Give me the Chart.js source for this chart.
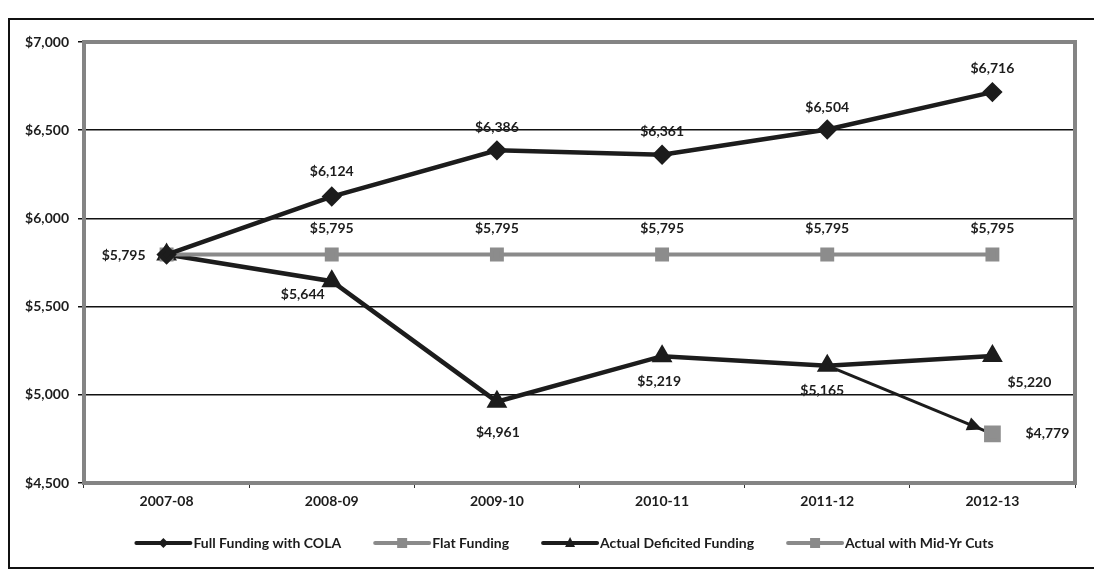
<!DOCTYPE html>
<html><head><meta charset="utf-8">
<script src="https://cdn.jsdelivr.net/npm/chart.js@4/dist/chart.umd.min.js"></script>
<style>html,body{margin:0;padding:0;background:#fff;}#wrap{width:1094px;height:571px;}</style>
</head><body><div id="wrap"><canvas id="c" width="1094" height="571"></canvas></div>
<script>
const categories = ['2007-08','2008-09','2009-10','2010-11','2011-12','2012-13'];
const fullFundingCOLA = [5795,6124,6386,6361,6504,6716];
const flatFunding = [5795,5795,5795,5795,5795,5795];
const actualDeficited = [5795,5644,4961,5219,5165,5220];
const midYrCuts = [null,null,null,null,null,4779];
const midYrArrow = [null,null,null,null,5165,4779];
const yMin = 4500, yMax = 7000, yStep = 500;

const DARK = '#1c1c1c', GRAY = '#8a8a8a';
const FONT = {family:'Lato, "Open Sans", sans-serif', weight:'bold', size:14};
const fmt = v => '$' + Number(v).toLocaleString('en-US');

const frame = {
  id:'frame',
  beforeDraw(c){const x=c.ctx;x.save();x.fillStyle='#fff';x.fillRect(0,0,c.width,c.height);
    x.strokeStyle='#111';x.lineWidth=2;x.strokeRect(9,19,1100,549);x.restore();},
  beforeDatasetsDraw(c){const a=c.chartArea,x=c.ctx;x.save();x.strokeStyle='#848484';x.lineWidth=4;
    x.strokeRect(a.left,a.top,a.right-a.left,a.bottom-a.top);x.restore();}
};
const arrowHead = {
  id:'arrowHead',
  afterDatasetsDraw(c){
    c.data.datasets.forEach((ds,i)=>{
      if(!ds.isArrow) return;
      const pts=c.getDatasetMeta(i).data.filter((p,j)=>ds.data[j]!=null);
      if(pts.length<2) return;
      const p0=pts[pts.length-2], p1=pts[pts.length-1];
      const ang=Math.atan2(p1.y-p0.y,p1.x-p0.x);
      const back=11, L=15, W=7;
      const tx=p1.x-Math.cos(ang)*back, ty=p1.y-Math.sin(ang)*back;
      const x=c.ctx;x.save();x.fillStyle=DARK;x.beginPath();
      x.moveTo(tx,ty);
      x.lineTo(tx-Math.cos(ang)*L-Math.sin(ang)*W, ty-Math.sin(ang)*L+Math.cos(ang)*W);
      x.lineTo(tx-Math.cos(ang)*L+Math.sin(ang)*W, ty-Math.sin(ang)*L-Math.cos(ang)*W);
      x.closePath();x.fill();x.restore();
    });
  }
};
const labels = {
  id:'labels',
  afterDatasetsDraw(c){
    const x=c.ctx;x.save();
    x.font=`${FONT.weight} ${FONT.size}px ${FONT.family}`;x.fillStyle=DARK;x.textAlign='center';x.textBaseline='middle';
    c.data.datasets.forEach((ds,i)=>{
      if(!ds.labelPos) return;
      const meta=c.getDatasetMeta(i);
      ds.data.forEach((v,j)=>{
        const off=ds.labelPos[j]; if(v==null||!off) return;
        const p=meta.data[j]; x.fillText(fmt(v),p.x+off[0],p.y+off[1]);
      });
    });
    x.restore();
  }
};
const legend = {
  id:'customLegend',
  afterDraw(c){
    const x=c.ctx;x.save();
    x.font=`${FONT.weight} ${FONT.size}px ${FONT.family}`;x.textBaseline='middle';x.textAlign='left';
    const items=c.data.datasets.filter(d=>!d.isArrow);
    const lineW=54, gap=3, itemGap=34;
    const widths=items.map(d=>lineW+gap+x.measureText(d.label).width);
    const total=widths.reduce((a,b)=>a+b,0)+itemGap*(items.length-1);
    let cx=565-total/2; const y=543;
    items.forEach((d,k)=>{
      const col=d.legendColor||d.borderColor;
      x.strokeStyle=col;x.lineWidth=4;x.lineCap='round';
      x.beginPath();x.moveTo(cx,y);x.lineTo(cx+lineW,y);x.stroke();
      const mx=cx+lineW/2;x.fillStyle=col;
      x.beginPath();
      if(d.pointStyle==='rectRot'){x.moveTo(mx,y-5);x.lineTo(mx+5,y);x.lineTo(mx,y+5);x.lineTo(mx-5,y);}
      else if(d.pointStyle==='triangle'){x.moveTo(mx,y-6);x.lineTo(mx+5,y+4);x.lineTo(mx-5,y+4);}
      else {x.rect(mx-5,y-5,10,10);}
      x.closePath();x.fill();
      x.fillStyle=DARK;x.fillText(d.label,cx+lineW+gap,y);
      cx+=widths[k]+itemGap;
    });
    x.restore();
  }
};

new Chart(document.getElementById('c'),{
  type:'line',
  data:{labels:categories,datasets:[
    {label:'Full Funding with COLA',data:fullFundingCOLA,borderColor:DARK,backgroundColor:DARK,borderWidth:4.5,
     pointStyle:'rectRot',pointRadius:7,pointBackgroundColor:DARK,pointBorderColor:DARK,
     labelPos:[null,[0,-25],[0,-23],[0,-23],[0,-22],[0,-24]]},
    {label:'Flat Funding',data:flatFunding,borderColor:GRAY,backgroundColor:GRAY,borderWidth:4,
     pointStyle:'rect',pointRadius:7,pointBackgroundColor:'#8c8c8c',pointBorderColor:'#8c8c8c',
     labelPos:[null,[0,-26],[0,-26],[0,-26],[0,-26],[0,-26]]},
    {label:'Actual Deficited Funding',data:actualDeficited,borderColor:DARK,backgroundColor:DARK,borderWidth:4.5,
     pointStyle:'triangle',pointRadius:7.5,pointBackgroundColor:DARK,pointBorderColor:DARK,
     labelPos:[[-43,1],[-29,13],[1,31],[-3,25],[-5,25],[37,26]]},
    {label:'Actual with Mid-Yr Cuts',data:midYrCuts,borderColor:GRAY,backgroundColor:GRAY,borderWidth:4,showLine:false,
     pointStyle:'rect',pointRadius:9,pointBackgroundColor:'#8f8f8f',pointBorderColor:'#8f8f8f',
     labelPos:[null,null,null,null,null,[55,0]]},
    {label:'arrow',isArrow:true,data:midYrArrow,borderColor:DARK,borderWidth:3,pointRadius:0,spanGaps:false}
  ]},
  options:{
    responsive:false,animation:false,
    layout:{padding:{left:0,right:19,top:42,bottom:0}},
    plugins:{legend:{display:false},tooltip:{enabled:false}},
    elements:{line:{tension:0}},
    scales:{
      x:{offset:true,
        grid:{display:true,drawOnChartArea:false,drawTicks:true,tickLength:5,color:'#333',lineWidth:1,offset:true},
        border:{display:false},
        ticks:{font:FONT,color:DARK,padding:5,maxRotation:0},
        afterFit:s=>{s.height=88;}},
      y:{min:yMin,max:yMax,
        grid:{color:'#111',lineWidth:1.5,tickLength:6,drawTicks:true},
        border:{display:false},
        ticks:{stepSize:yStep,font:FONT,color:DARK,padding:9,callback:v=>fmt(v)},
        afterFit:s=>{s.width=84;}}
    }
  },
  plugins:[frame,arrowHead,labels,legend]
});
</script></body></html>
